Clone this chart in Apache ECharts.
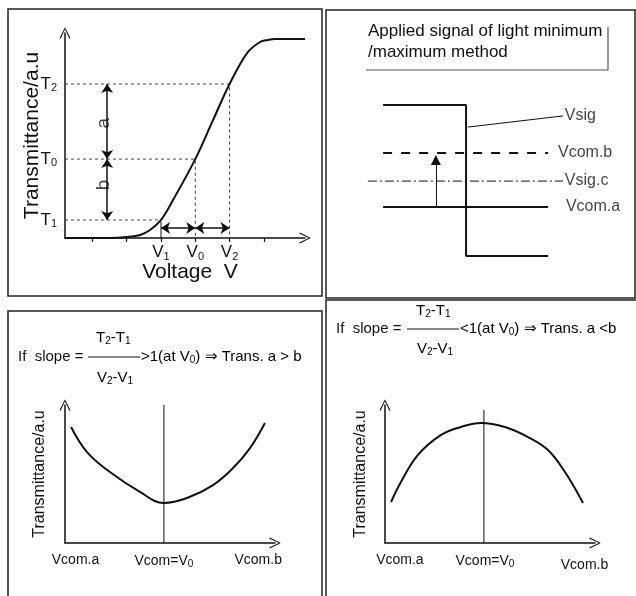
<!DOCTYPE html>
<html><head><meta charset="utf-8">
<script src="https://cdn.jsdelivr.net/npm/echarts@6/dist/echarts.min.js"></script>
<style>html,body{margin:0;padding:0;background:#fff}#c{width:636px;height:596px}</style>
</head><body><div id="c"></div>
<script>
// ---------- Data ----------
// Top-left: transmittance vs voltage (V in V-units, T in % of axis)
const tvCurve = [[0.2,0],[1.5,0],[2.01,0.5],[2.39,1.5],[2.68,3.9],[3.0,8.8],[3.35,18.5],[4.0,38.5],[4.52,57.6],[5.0,75.1],[5.51,90.2],[5.89,95.6],[6.12,96.6],[6.33,97.1],[7.2,97.1]];
const vTicks = [1,2,3,4,5,6];
const vLevels = {V1:3.0, V0:4.0, V2:5.0};
const tLevels = {T1:8.8, T0:38.5, T2:75.1};
const arrowX = 1.43, arrowY = 4.9;
// Top-right: signal levels
const vsigHigh = 91.7, vsigLow = 7.8, vcomB = 65, vsigC = 49.4, vcomA = 35;
const sigStart = 10.5, sigEdge = 48.2, sigEnd = 85.5, vsigCStart = 3.6, vsigCEnd = 92.3;
// Bottom: transmittance vs Vcom
const vcomCats = ['Vcom.a','Vcom=V0','Vcom.b'];
const leftVcomPos = [0.5, 4.71, 9.2];
const rightVcomPos = [0.71, 4.76, 9.5];
const curveMin = [[0.29,84.1],[1.05,65.9],[2.14,51.4],[3.57,37.0],[4.71,29.0],[5.81,32.6],[7.05,42.0],[8.0,54.3],[8.81,68.8],[9.52,87.0]];
const curveMax = [[0.29,29.7],[0.76,44.2],[1.57,63.8],[2.67,78.3],[3.62,84.1],[4.57,87.0],[5.71,84.1],[6.81,76.8],[7.76,67.4],[8.57,51.4],[9.43,29.0]];
const v0Pos = 4.71, v0PosR = 4.71;

// ---------- Styles ----------
const FONT = 'Liberation Sans, Arial, sans-serif';
const INK = '#111';
const chevron = 'path://M0,10 L5,0 L10,10 L9,10.6 L5,1.9 L1,10.6 Z';
const sub = {n:{fontSize:17,fontFamily:FONT,color:INK}, s:{fontSize:11,fontFamily:FONT,color:INK,padding:[8,0,0,0]}};
const fr = {n:{fontSize:15,fontFamily:FONT},s:{fontSize:10,fontFamily:FONT,padding:[7,0,0,0]}};

function axisLineStyle(){return {show:true,onZero:false,symbol:['none',chevron],symbolSize:[11,13],lineStyle:{color:INK,width:1.5}};}
function plainAxis(grid, type, extra){
  return Object.assign({gridIndex:grid,type:'value',nameMoveOverlap:false,axisLine:axisLineStyle(),axisTick:{show:false},axisLabel:{show:false},splitLine:{show:false}}, extra||{});
}
const dashed = {type:[3,3],color:'#444',width:1};
const vcomRich = {n:{fontSize:14,fontFamily:FONT,color:INK},d:{fontSize:14,fontFamily:FONT,color:INK,padding:[5,0,0,0]},s:{fontSize:10,fontFamily:FONT,color:INK,padding:[6,0,0,0]}};

const option = {
  animation:false,
  backgroundColor:'#fff',
  textStyle:{fontFamily:FONT},
  grid:[
    {left:65, top:33, width:240, height:205},
    {left:360, top:90, width:220, height:180},
    {left:65, top:405, width:210, height:138},
    {left:385, top:405, width:210, height:138}
  ],
  xAxis:[
    plainAxis(0,'value',{min:0.2,max:7.2,
      axisTick:{show:true,customValues:vTicks,length:4,lineStyle:{color:INK,width:1.2}},
      axisLabel:{show:true,customValues:[vLevels.V1,vLevels.V0,vLevels.V2],margin:5,
        formatter:v=>'{n|V}{s|'+(v===3?'1':v===4?'0':'2')+'}',rich:sub},
      name:'Voltage  V',nameLocation:'middle',nameGap:24,
      nameTextStyle:{fontSize:21,fontFamily:FONT,color:INK,padding:[0,0,0,10]}}),
    {gridIndex:1,type:'value',min:0,max:100,show:false},
    plainAxis(2,'value',{min:0,max:10,
      axisLabel:{show:true,customValues:leftVcomPos,margin:10,
        formatter:v=>{const i=leftVcomPos.indexOf(v);return i===1?'{n|Vcom=V}{s|0}':'{n|'+vcomCats[i]+'}';},
        rich:vcomRich}}),
    plainAxis(3,'value',{min:0,max:10,
      axisLabel:{show:true,customValues:rightVcomPos,margin:10,
        formatter:v=>{const i=rightVcomPos.indexOf(v);return i===1?'{n|Vcom=V}{s|0}':i===2?'{d|'+vcomCats[i]+'}':'{n|'+vcomCats[i]+'}';},
        rich:vcomRich}})
  ],
  yAxis:[
    plainAxis(0,'value',{min:0,max:100,
      axisLabel:{show:true,customValues:[tLevels.T1,tLevels.T0,tLevels.T2],margin:8,
        formatter:v=>'{n|T}{s|'+(v===tLevels.T1?'1':v===tLevels.T0?'0':'2')+'}',rich:sub},
      name:'Transmittance/a.u',nameLocation:'middle',nameGap:22,nameRotate:90,
      nameTextStyle:{fontSize:21,fontFamily:FONT,color:INK}}),
    {gridIndex:1,type:'value',min:0,max:100,show:false},
    plainAxis(2,'value',{min:0,max:100,name:'Transmittance/a.u',nameLocation:'middle',nameGap:17,nameRotate:90,
      nameTextStyle:{fontSize:16,fontFamily:FONT,color:INK}}),
    plainAxis(3,'value',{min:0,max:100,name:'Transmittance/a.u',nameLocation:'middle',nameGap:16,nameRotate:90,
      nameTextStyle:{fontSize:16,fontFamily:FONT,color:INK}})
  ],
  series:[
    // top-left
    {type:'line',xAxisIndex:0,yAxisIndex:0,data:tvCurve,smooth:0.35,symbol:'none',lineStyle:{color:INK,width:2},z:5},
    {type:'line',xAxisIndex:0,yAxisIndex:0,data:[[0.2,tLevels.T2],[vLevels.V2,tLevels.T2],[vLevels.V2,0]],symbol:'none',lineStyle:dashed},
    {type:'line',xAxisIndex:0,yAxisIndex:0,data:[[0.2,tLevels.T0],[vLevels.V0,tLevels.T0],[vLevels.V0,0]],symbol:'none',lineStyle:dashed},
    {type:'line',xAxisIndex:0,yAxisIndex:0,data:[[0.2,tLevels.T1],[vLevels.V1,tLevels.T1]],symbol:'none',lineStyle:dashed},
    {type:'line',xAxisIndex:0,yAxisIndex:0,data:[[vLevels.V1,0],[vLevels.V1,arrowY+3]],symbol:'none',lineStyle:{color:INK,width:1}},
    {type:'lines',coordinateSystem:'cartesian2d',xAxisIndex:0,yAxisIndex:0,symbol:['arrow','arrow'],symbolSize:9,
      lineStyle:{color:INK,width:1.5,opacity:1},
      data:[
        {coords:[[arrowX,tLevels.T2],[arrowX,tLevels.T0]]},
        {coords:[[arrowX,tLevels.T0],[arrowX,tLevels.T1]]},
        {coords:[[vLevels.V1,arrowY],[vLevels.V0,arrowY]]},
        {coords:[[vLevels.V0,arrowY],[vLevels.V2,arrowY]]}
      ]},
    {type:'scatter',xAxisIndex:0,yAxisIndex:0,symbolSize:0,
      data:[{value:[arrowX-0.1,56],name:'a'},{value:[arrowX-0.1,25.9],name:'b'}],
      label:{show:true,formatter:p=>p.name,position:'inside',rotate:90,fontSize:19,fontFamily:FONT,color:INK}},
    // top-right
    {type:'line',xAxisIndex:1,yAxisIndex:1,data:[[sigStart,vsigHigh],[sigEdge,vsigHigh],[sigEdge,vsigLow],[sigEnd,vsigLow]],symbol:'none',lineStyle:{color:INK,width:2}},
    {type:'line',xAxisIndex:1,yAxisIndex:1,data:[[sigStart,vcomB],[sigEnd,vcomB]],symbol:'none',lineStyle:{color:INK,width:2,type:[9,9]}},
    {type:'line',xAxisIndex:1,yAxisIndex:1,data:[[vsigCStart,vsigC],[vsigCEnd,vsigC]],symbol:'none',lineStyle:{color:INK,width:1,type:[9,3,2,3]}},
    {type:'line',xAxisIndex:1,yAxisIndex:1,data:[[sigStart,vcomA],[sigEnd,vcomA]],symbol:'none',lineStyle:{color:INK,width:2}},
    {type:'line',xAxisIndex:1,yAxisIndex:1,data:[[49,79.4],[vsigCEnd,85.6]],symbol:'none',lineStyle:{color:INK,width:1}},
    {type:'lines',coordinateSystem:'cartesian2d',xAxisIndex:1,yAxisIndex:1,symbol:['none','triangle'],symbolSize:10,
      lineStyle:{color:INK,width:1,opacity:1},data:[{coords:[[34.5,vcomA],[34.5,61.1]]}]},
    {type:'scatter',xAxisIndex:1,yAxisIndex:1,symbolSize:0,
      data:[{value:[vsigCEnd+0.8,85.6],name:'Vsig'},{value:[90,vcomB],name:'Vcom.b'},{value:[vsigCEnd+0.8,vsigC],name:'Vsig.c'},{value:[93.6,vcomA],name:'Vcom.a'}],
      label:{show:true,formatter:p=>p.name,position:'right',distance:0,fontSize:16,fontFamily:FONT,color:INK}},
    // bottom-left
    {type:'line',xAxisIndex:2,yAxisIndex:2,data:curveMin,smooth:0.4,symbol:'none',lineStyle:{color:INK,width:2}},
    {type:'line',xAxisIndex:2,yAxisIndex:2,data:[[v0Pos,0],[v0Pos,100]],symbol:'none',lineStyle:{color:INK,width:1}},
    // bottom-right
    {type:'line',xAxisIndex:3,yAxisIndex:3,data:curveMax,smooth:0.4,symbol:'none',lineStyle:{color:INK,width:2}},
    {type:'line',xAxisIndex:3,yAxisIndex:3,data:[[v0PosR,0],[v0PosR,96.4]],symbol:'none',lineStyle:{color:INK,width:1}}
  ],
  graphic:[
    // panel frames
    {type:'rect',shape:{x:8,y:9,width:314,height:287},style:{fill:'none',stroke:'#222',lineWidth:1.5},silent:true},
    {type:'rect',shape:{x:326,y:10,width:309,height:288},style:{fill:'none',stroke:'#222',lineWidth:1.5},silent:true},
    {type:'rect',shape:{x:8,y:311,width:314,height:300},style:{fill:'none',stroke:'#222',lineWidth:1.5},silent:true},
    {type:'rect',shape:{x:326,y:300,width:330,height:310},style:{fill:'none',stroke:'#222',lineWidth:1.5},silent:true},
    // title box
    {type:'text',left:368,top:21,style:{text:'Applied signal of light minimum\n/maximum method',fontSize:17,lineHeight:21,fontFamily:FONT,fill:INK}},
    {type:'polyline',shape:{points:[[366,70],[608,70],[608,27]]},style:{stroke:'#555',lineWidth:1.2,fill:'none'},silent:true},
    // formula left
    {type:'text',left:18,top:349,style:{text:'If  slope =',fontSize:15,fontFamily:FONT,fill:INK}},
    {type:'text',left:96,top:330,style:{rich:fr,text:'{n|T}{s|2}{n|-T}{s|1}'}},
    {type:'line',shape:{x1:88,y1:357,x2:140,y2:357},style:{stroke:INK,lineWidth:1}},
    {type:'text',left:97,top:370,style:{rich:fr,text:'{n|V}{s|2}{n|-V}{s|1}'}},
    {type:'text',left:141,top:349,style:{rich:fr,text:'{n|>1(at V}{s|0}{n|) \u21D2 Trans. a > b}'}},
    // formula right
    {type:'text',left:336,top:321,style:{text:'If  slope =',fontSize:15,fontFamily:FONT,fill:INK}},
    {type:'text',left:416,top:303,style:{rich:fr,text:'{n|T}{s|2}{n|-T}{s|1}'}},
    {type:'line',shape:{x1:407,y1:329,x2:459,y2:329},style:{stroke:INK,lineWidth:1}},
    {type:'text',left:417,top:341,style:{rich:fr,text:'{n|V}{s|2}{n|-V}{s|1}'}},
    {type:'text',left:460,top:321,style:{rich:fr,text:'{n|<1(at V}{s|0}{n|) \u21D2 Trans. a <b}'}}
  ]
};
const chart = echarts.init(document.getElementById('c'),null,{renderer:'canvas'});
chart.setOption(option);
</script></body></html>
